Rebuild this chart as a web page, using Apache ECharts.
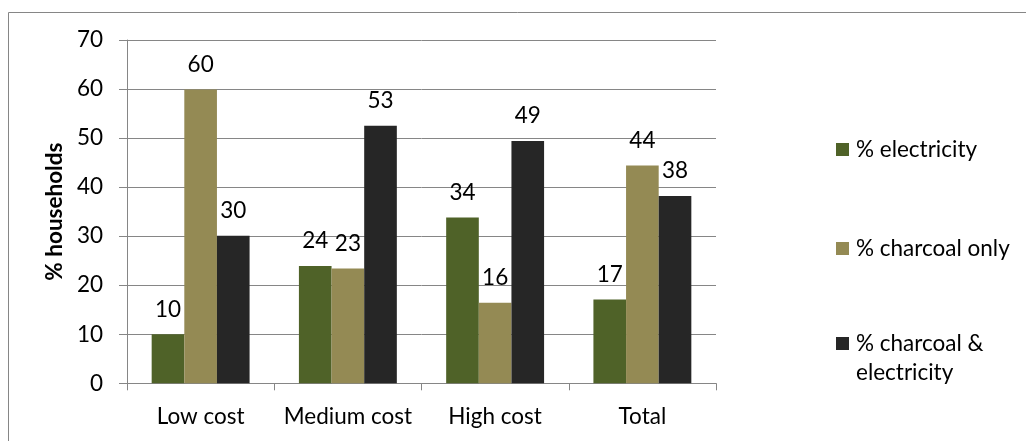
<!DOCTYPE html>
<html>
<head>
<meta charset="utf-8">
<script src="https://cdn.jsdelivr.net/npm/echarts@6/dist/echarts.min.js"></script>
<style>
  html, body { margin: 0; padding: 0; background: #fff; }
  #chart { width: 1026px; height: 441px; }
</style>
</head>
<body>
<div id="chart"></div>
<script>
const categories = ['Low cost', 'Medium cost', 'High cost', 'Total'];
const electricity = [10.0, 23.9, 33.8, 17.1];
const charcoalOnly = [59.9, 23.4, 16.4, 44.4];
const charcoalElectricity = [30.1, 52.5, 49.4, 38.2];
const seriesNames = ['% electricity', '% charcoal only', '% charcoal & electricity'];
const yTicks = { min: 0, max: 70, interval: 10 };

const FONT = 'Lato';
const FS = 22.5;
const colors = ['#4F6228', '#948A54', '#262626'];

const chart = echarts.init(document.getElementById('chart'), null, { renderer: 'canvas' });

function barSeries(name, data, color) {
  return {
    name: name,
    type: 'bar',
    data: data,
    barGap: '0%',
    barCategoryGap: '33.5%',
    itemStyle: { color: color },
    label: {
      show: true,
      position: 'top',
      distance: 12,
      color: '#000',
      fontFamily: FONT,
      fontSize: FS,
      lineHeight: 26,
      formatter: p => String(Math.round(p.value))
    }
  };
}

const option = {
  animation: false,
  backgroundColor: '#fff',
  textStyle: { fontFamily: FONT },
  grid: { left: 127, right: 310, top: 40, bottom: 57.7, containLabel: false },
  legend: [
    {
      orient: 'vertical',
      left: 831,
      top: 130,
      itemWidth: 13,
      itemHeight: 13,
      itemGap: 70,
      icon: 'rect',
      data: [seriesNames[0], seriesNames[1]],
      textStyle: { fontFamily: FONT, fontSize: FS, color: '#000', lineHeight: 29, padding: [0, 0, 0, 2] }
    },
    {
      orient: 'vertical',
      left: 831,
      top: 324,
      itemWidth: 13,
      itemHeight: 58,
      data: [{ name: seriesNames[2], icon: 'path://M0,0L0,0 M0,6.15L10,6.15L10,16.15L0,16.15Z M0,44.6L0,44.6' }],
      formatter: () => '% charcoal &\nelectricity',
      textStyle: { fontFamily: FONT, fontSize: FS, color: '#000', lineHeight: 29, padding: [0, 0, 0, 2] }
    }
  ],
  xAxis: {
    type: 'category',
    data: categories,
    axisLine: { show: true, lineStyle: { color: '#868686', width: 1 } },
    axisTick: { show: true, length: 7, alignWithLabel: false, interval: 0, lineStyle: { color: '#868686' } },
    axisLabel: { color: '#000', fontFamily: FONT, fontSize: FS, margin: 22, interval: 0 },
    splitLine: { show: false }
  },
  yAxis: {
    type: 'value',
    min: yTicks.min,
    max: yTicks.max,
    interval: yTicks.interval,
    name: '% households',
    nameLocation: 'middle',
    nameGap: 58,
    nameRotate: 90,
    nameTextStyle: { color: '#000', fontFamily: FONT, fontSize: FS, fontWeight: 'bold' },
    axisLine: { show: true, lineStyle: { color: '#868686', width: 1 } },
    axisTick: { show: true, length: 8, lineStyle: { color: '#868686' } },
    axisLabel: { color: '#000', fontFamily: FONT, fontSize: FS, margin: 24 },
    splitLine: { show: true, lineStyle: { color: '#868686', width: 1 } }
  },
  graphic: [
    {
      type: 'rect',
      shape: { x: 8.5, y: 12.5, width: 1040, height: 440 },
      style: { fill: 'none', stroke: '#868686', lineWidth: 1 },
      silent: true,
      z: -1
    }
  ],
  series: [
    barSeries(seriesNames[0], electricity, colors[0]),
    barSeries(seriesNames[1], charcoalOnly, colors[1]),
    barSeries(seriesNames[2], charcoalElectricity, colors[2])
  ]
};

chart.setOption(option);
</script>
</body>
</html>
